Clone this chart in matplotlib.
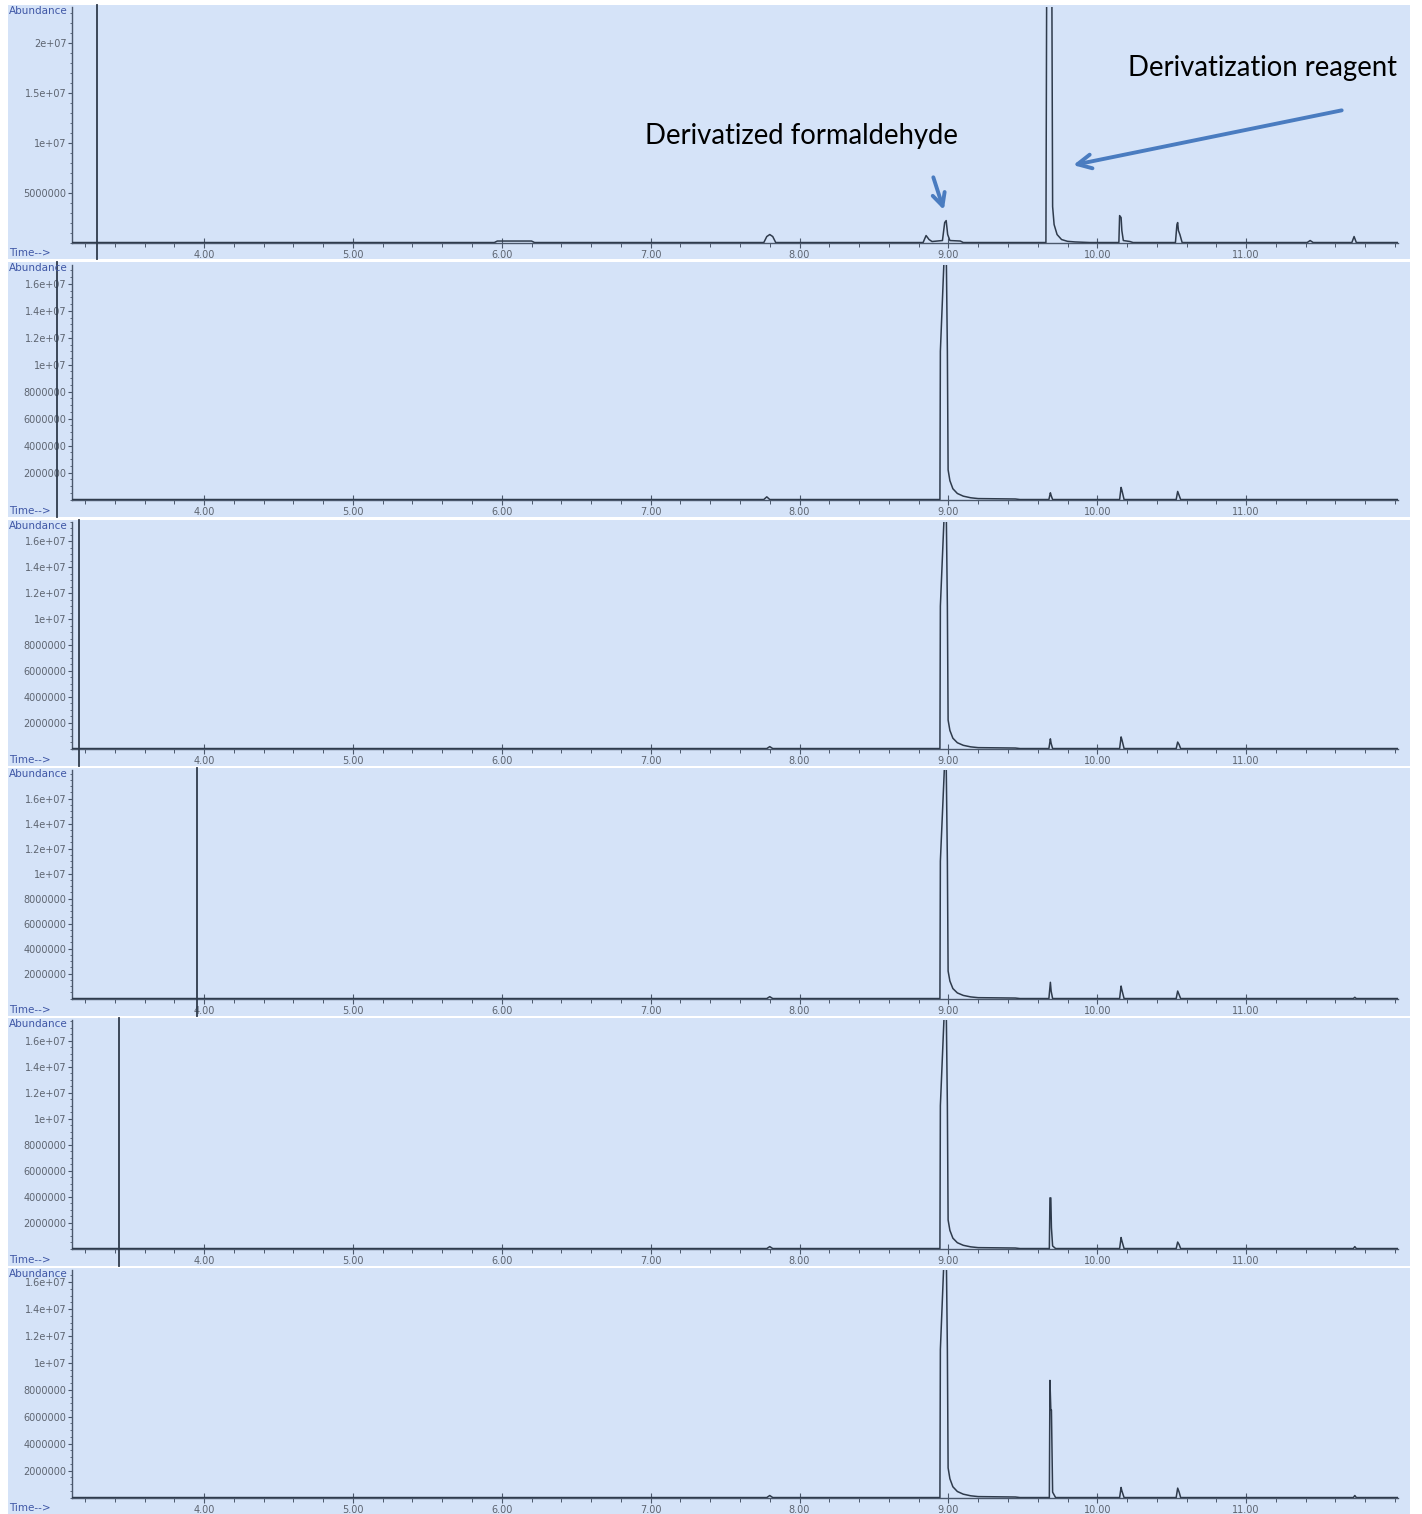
import matplotlib
matplotlib.use("Agg")
import matplotlib.pyplot as plt
from matplotlib.patches import Rectangle
from matplotlib.ticker import MultipleLocator

# ==========================================
# DATA - six stacked chromatograms (time in min, abundance)
# ==========================================
t1 = [3.11, 5.95, 5.97, 6.20, 6.22, 7.76, 7.78, 7.80, 7.82, 7.84,
      8.83, 8.85, 8.87, 8.89, 8.96, 8.975, 8.985, 8.995, 9.01, 9.08, 9.10,
      9.655, 9.66, 9.695, 9.70, 9.71, 9.73, 9.76, 9.80, 9.85, 9.95,
      10.145, 10.15, 10.16, 10.165, 10.175, 10.22, 10.24,
      10.525, 10.535, 10.54, 10.545, 10.555, 10.57,
      11.41, 11.43, 11.45, 11.71, 11.725, 11.74, 12.02]
a1 = [0, 0, 1.5e5, 1.5e5, 0, 0, 6e5, 8e5, 6e5, 0,
      0, 7e5, 3e5, 1e5, 2e5, 2.0e6, 2.2e6, 8e5, 2e5, 1.5e5, 0,
      0, 2.5e7, 2.5e7, 3.6e6, 1.8e6, 8e5, 3e5, 1.2e5, 6e4, 0,
      0, 2.7e6, 2.5e6, 1.2e6, 2e5, 1e5, 0,
      0, 1.8e6, 2.0e6, 1.2e6, 8e5, 0,
      0, 2e5, 0, 0, 6e5, 0, 0]

t2 = [3.11, 7.76, 7.78, 7.80, 8.943, 8.946, 8.975, 8.985, 8.993, 8.998,
      9.01, 9.03, 9.06, 9.10, 9.15, 9.20, 9.45, 9.48,
      9.675, 9.685, 9.69, 9.70, 10.15, 10.16, 10.165, 10.18,
      10.53, 10.54, 10.55, 10.56, 12.02]
a2 = [0, 0, 2e5, 0, 0, 1.1e7, 1.9e7, 1.9e7, 1.1e7, 2.2e6,
      1.4e6, 8e5, 4.5e5, 2.5e5, 1.3e5, 7e4, 4e4, 0,
      0, 5e5, 3e5, 0, 0, 9e5, 7e5, 0,
      0, 6e5, 3e5, 0, 0]

t3 = [3.11, 7.78, 7.80, 7.82, 8.943, 8.946, 8.975, 8.985, 8.993, 8.998,
      9.01, 9.03, 9.06, 9.10, 9.15, 9.20, 9.45, 9.48,
      9.675, 9.685, 9.69, 9.70, 10.15, 10.16, 10.165, 10.18,
      10.53, 10.54, 10.55, 10.56, 12.02]
a3 = [0, 0, 1.5e5, 0, 0, 1.1e7, 1.9e7, 1.9e7, 1.1e7, 2.2e6,
      1.4e6, 8e5, 4.5e5, 2.5e5, 1.3e5, 7e4, 4e4, 0,
      0, 7.5e5, 4e5, 0, 0, 9e5, 7e5, 0,
      0, 5e5, 3e5, 0, 0]

t4 = [3.11, 7.78, 7.80, 7.82, 8.943, 8.946, 8.975, 8.985, 8.993, 8.998,
      9.01, 9.03, 9.06, 9.10, 9.15, 9.20, 9.45, 9.48,
      9.675, 9.685, 9.69, 9.70, 10.15, 10.16, 10.165, 10.18,
      10.53, 10.54, 10.55, 10.56, 11.72, 11.73, 11.74, 12.02]
a4 = [0, 0, 1.5e5, 0, 0, 1.1e7, 1.9e7, 1.9e7, 1.1e7, 2.2e6,
      1.4e6, 8e5, 4.5e5, 2.5e5, 1.3e5, 7e4, 4e4, 0,
      0, 1.3e6, 6e5, 0, 0, 1.0e6, 7e5, 0,
      0, 6e5, 3e5, 0, 0, 1e5, 0, 0]

t5 = [3.11, 7.78, 7.80, 7.82, 8.943, 8.946, 8.975, 8.985, 8.993, 8.998,
      9.01, 9.03, 9.06, 9.10, 9.15, 9.20, 9.45, 9.48,
      9.678, 9.682, 9.688, 9.692, 9.70, 9.72,
      10.15, 10.16, 10.165, 10.18, 10.53, 10.54, 10.55, 10.56,
      11.72, 11.73, 11.74, 12.02]
a5 = [0, 0, 1.5e5, 0, 0, 1.1e7, 1.9e7, 1.9e7, 1.1e7, 2.2e6,
      1.4e6, 8e5, 4.5e5, 2.5e5, 1.3e5, 7e4, 4e4, 0,
      0, 3.9e6, 3.9e6, 1.6e6, 2e5, 0,
      0, 8.5e5, 6e5, 0, 0, 5e5, 3e5, 0,
      0, 1.5e5, 0, 0]

t6 = [3.11, 7.78, 7.80, 7.82, 8.943, 8.946, 8.975, 8.985, 8.993, 8.998,
      9.01, 9.03, 9.06, 9.10, 9.15, 9.20, 9.45, 9.48,
      9.678, 9.682, 9.688, 9.692, 9.70, 9.72,
      10.15, 10.16, 10.165, 10.18, 10.53, 10.54, 10.55, 10.56,
      11.72, 11.73, 11.74, 12.02]
a6 = [0, 0, 1.5e5, 0, 0, 1.1e7, 1.9e7, 1.9e7, 1.1e7, 2.2e6,
      1.4e6, 8e5, 4.5e5, 2.5e5, 1.3e5, 7e4, 4e4, 0,
      0, 8.7e6, 6.5e6, 6.5e6, 4e5, 0,
      0, 7.5e5, 5e5, 0, 0, 7e5, 4e5, 0,
      0, 1.5e5, 0, 0]

traces_t = [t1, t2, t3, t4, t5, t6]
traces_a = [a1, a2, a3, a4, a5, a6]

# solvent / start marker line per run (None = no line)
marker_times = [3.28, 3.01, 3.16, 3.95, 3.43, None]

# y-axis top of each run
y_tops = [2.36e7, 1.74e7, 1.75e7, 1.83e7, 1.76e7, 1.69e7]

x_ticks = [4, 5, 6, 7, 8, 9, 10, 11]
x_labels = ["4.00", "5.00", "6.00", "7.00", "8.00", "9.00", "10.00", "11.00"]

y_ticks_top = [2e7, 1.5e7, 1e7, 5e6]
y_labels_top = ["2e+07", "1.5e+07", "1e+07", "5000000"]
y_ticks_rest = [1.6e7, 1.4e7, 1.2e7, 1e7, 8e6, 6e6, 4e6, 2e6]
y_labels_rest = ["1.6e+07", "1.4e+07", "1.2e+07", "1e+07",
                 "8000000", "6000000", "4000000", "2000000"]

# ==========================================
# LAYOUT (pixels)
# ==========================================
W, H = 1422, 1514
BG = "#D5E3F8"
LINE = "#2f3b4c"
AXC = "#4b586c"
TICKC = "#5d6470"
BLUE_TXT = "#3f57a6"
ARROW = "#4a7cc0"

# (panel top, panel bottom, axes top, axes bottom)
panels_px = [(5, 259, 7, 243), (262, 517, 265, 500), (520, 766, 522, 749),
             (768, 1016, 770, 999), (1018, 1266, 1020, 1249), (1268, 1514, 1270, 1498)]
AX_LEFT, AX_RIGHT = 72, 1398
XMIN, XMAX = 3.113, 12.02

fig = plt.figure(figsize=(W / 100, H / 100), dpi=100)
fig.patch.set_facecolor("white")

axes = []
for i, (ptop, pbot, atop, abot) in enumerate(panels_px):
    fig.add_artist(Rectangle((8 / W, 1 - pbot / H), (1410 - 8) / W, (pbot - ptop) / H,
                             transform=fig.transFigure, facecolor=BG,
                             edgecolor="none", zorder=0))
    ax = fig.add_axes([AX_LEFT / W, 1 - abot / H, (AX_RIGHT - AX_LEFT) / W,
                       (abot - atop) / H])
    ax.set_facecolor("none")
    for s in ["top", "right"]:
        ax.spines[s].set_visible(False)
    for s in ["left", "bottom"]:
        ax.spines[s].set_color(AXC)
        ax.spines[s].set_linewidth(1.0)

    ax.plot(traces_t[i], traces_a[i], color=LINE, lw=1.1, zorder=3)

    ymax = y_tops[i]
    ax.set_xlim(XMIN, XMAX)
    ax.set_ylim(-ymax * 0.002, ymax)

    ax.set_xticks(x_ticks)
    ax.set_xticklabels(x_labels)
    ax.xaxis.set_minor_locator(MultipleLocator(0.2))
    if i == 0:
        ax.set_yticks(y_ticks_top)
        ax.set_yticklabels(y_labels_top)
        ax.yaxis.set_minor_locator(MultipleLocator(1e6))
    else:
        ax.set_yticks(y_ticks_rest)
        ax.set_yticklabels(y_labels_rest)
        ax.yaxis.set_minor_locator(MultipleLocator(5e5))

    ax.tick_params(axis="x", which="major", direction="inout", length=7,
                   width=0.8, color=AXC, labelsize=7, labelcolor=TICKC, pad=1.5)
    ax.tick_params(axis="x", which="minor", direction="out", length=3,
                   width=0.7, color=AXC)
    ax.tick_params(axis="y", which="major", direction="out", length=3,
                   width=0.8, color=AXC, labelsize=7, labelcolor=TICKC, pad=1)
    ax.tick_params(axis="y", which="minor", direction="out", length=1.5,
                   width=0.6, color=AXC)

    # start marker line reaching down through the label strip
    if marker_times[i] is not None:
        extra = (pbot - abot) / (abot - atop)
        top_extra = (atop - ptop) / (abot - atop)
        ax.axvline(marker_times[i], ymin=-extra, ymax=1 + top_extra,
                   color=LINE, lw=1.3, clip_on=False, zorder=4)

    fig.text(9 / W, 1 - (ptop + 6) / H, "Abundance", fontsize=7.5,
             color=BLUE_TXT, ha="left", va="center")
    fig.text(9 / W, 1 - (pbot - 6) / H, "Time-->", fontsize=7.5,
             color=BLUE_TXT, ha="left", va="center")
    axes.append(ax)

# ==========================================
# ANNOTATIONS on the top run
# ==========================================
ax0 = axes[0]
ax0.annotate("", xy=(8.975, 3.0e6), xytext=(8.893, 6.8e6),
             arrowprops=dict(arrowstyle="->,head_length=0.9,head_width=0.45",
                             color=ARROW, lw=2.8), annotation_clip=False)
ax0.annotate("", xy=(9.82, 7.7e6), xytext=(11.66, 1.33e7),
             arrowprops=dict(arrowstyle="->,head_length=1.0,head_width=0.5",
                             color=ARROW, lw=2.8), annotation_clip=False)
fig.text(801 / W, 1 - 136 / H, "Derivatized formaldehyde", fontsize=19.8,
         family=["Lato", "DejaVu Sans"], color="black", ha="center", va="center")
fig.text(1262 / W, 1 - 68 / H, "Derivatization reagent", fontsize=19.8,
         family=["Lato", "DejaVu Sans"], color="black", ha="center", va="center")

fig.savefig("out.png", dpi=100, facecolor="white")
